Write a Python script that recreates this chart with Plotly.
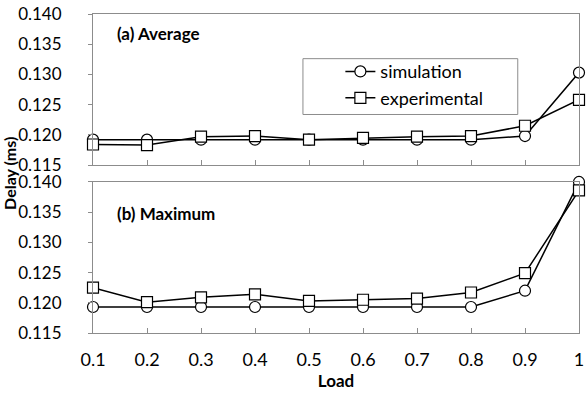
import plotly.graph_objects as go

load = [0.1, 0.2, 0.3, 0.4, 0.5, 0.6, 0.7, 0.8, 0.9, 1.0]
avg_sim = [0.1192, 0.1192, 0.1192, 0.1192, 0.1192, 0.1192, 0.1192, 0.1192, 0.1198, 0.1303]
avg_exp = [0.1184, 0.1183, 0.1197, 0.1198, 0.1192, 0.1195, 0.1197, 0.1198, 0.1215, 0.1258]
max_sim = [0.1193, 0.1193, 0.1193, 0.1193, 0.1193, 0.1193, 0.1193, 0.1193, 0.1220, 0.1400]
max_exp = [0.1225, 0.1201, 0.1209, 0.1214, 0.1203, 0.1205, 0.1207, 0.1217, 0.1249, 0.1386]
y_ticks = [0.115, 0.120, 0.125, 0.130, 0.135, 0.140]
x_ticks = [0.1, 0.2, 0.3, 0.4, 0.5, 0.6, 0.7, 0.8, 0.9, 1.0]
x_tick_text = ["0.1", "0.2", "0.3", "0.4", "0.5", "0.6", "0.7", "0.8", "0.9", "1"]

FONT = "Lato"
GRAY = "#8c8c8c"
FS = 17

fig = go.Figure()

def add(y, name, symbol, xa, ya, show):
    fig.add_trace(go.Scatter(
        x=load, y=y, name=name, mode="lines+markers",
        line=dict(color="black", width=1.5),
        marker=dict(symbol=symbol, size=11, color="white",
                    line=dict(color="black", width=1.2)),
        xaxis=xa, yaxis=ya, showlegend=show, cliponaxis=False))

add(avg_sim, "simulation", "circle", "x", "y", True)
add(avg_exp, "experimental", "square", "x", "y", True)
add(max_sim, "simulation", "circle", "x2", "y2", False)
add(max_exp, "experimental", "square", "x2", "y2", False)

yax = dict(range=[0.115, 0.140], tickvals=y_ticks, tickformat=".3f",
           showline=True, linecolor=GRAY, linewidth=1, mirror=True,
           ticks="outside", ticklen=4, tickcolor=GRAY, showgrid=False,
           zeroline=False, ticklabelstandoff=23,
           tickfont=dict(family=FONT, size=17, color="black"))
xax = dict(range=[0.1, 1.0], tickvals=x_ticks, ticktext=x_tick_text,
           showline=True, linecolor=GRAY, linewidth=1, mirror=True,
           ticks="inside", ticklen=5, tickcolor=GRAY, showgrid=False,
           zeroline=False, ticklabelstandoff=10, ticklabeloverflow="allow",
           tickfont=dict(family=FONT, size=18, color="black"))

fig.update_layout(
    width=587, height=393,
    margin=dict(l=93, r=3, t=12, b=60),
    plot_bgcolor="white", paper_bgcolor="white",
    font=dict(family=FONT, size=FS, color="black"),
    xaxis=dict(xax, anchor="y", showticklabels=False),
    yaxis=dict(yax, domain=[0.5265, 1.0], anchor="x"),
    xaxis2=dict(xax, anchor="y2", matches="x",
                title=dict(text="<b>Load</b>", font=dict(family=FONT, size=FS), standoff=4)),
    yaxis2=dict(yax, domain=[0.0, 0.4735], anchor="x2"),
    showlegend=True,
    legend=dict(x=0.509, y=0.877, xanchor="left", yanchor="top",
                bgcolor="rgba(0,0,0,0)", borderwidth=0,
                font=dict(family=FONT, size=18), tracegroupgap=0),
)

fig.add_shape(type="rect", xref="paper", yref="paper",
              x0=0.432, x1=0.874, y0=0.685, y1=0.860,
              line=dict(color=GRAY, width=1), fillcolor="white", layer="below")

fig.add_annotation(text="<b>(a) Average</b>", xref="paper", yref="paper",
                   x=0.045, y=0.94, xanchor="left", yanchor="middle",
                   showarrow=False, font=dict(family=FONT, size=FS))
fig.add_annotation(text="<b>(b) Maximum</b>", xref="paper", yref="paper",
                   x=0.045, y=0.375, xanchor="left", yanchor="middle",
                   showarrow=False, font=dict(family=FONT, size=FS))
fig.add_annotation(text="<b>Delay (ms)</b>", xref="paper", yref="paper",
                   x=-0.172, y=0.5, xanchor="center", yanchor="middle",
                   textangle=-90, showarrow=False, font=dict(family=FONT, size=FS - 1))

fig.write_html("out.html", config={"displayModeBar": False},
               post_script="document.body.style.margin='0';document.body.style.overflow='hidden';")
